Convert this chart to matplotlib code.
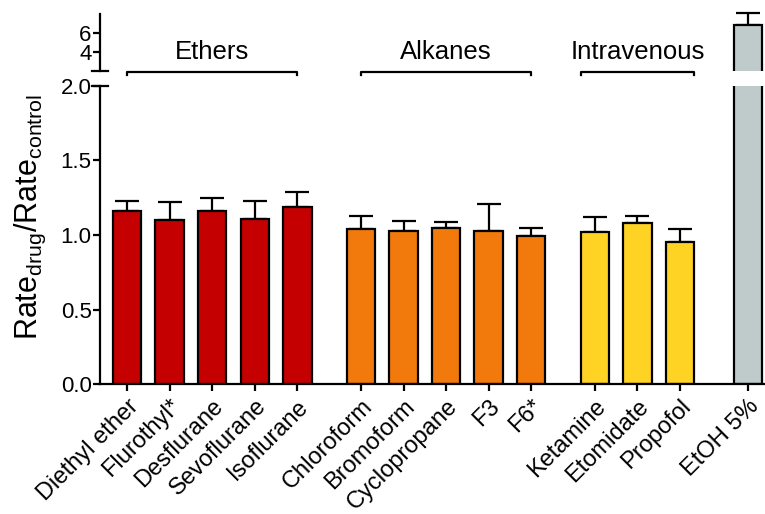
import matplotlib
matplotlib.use("Agg")
import matplotlib.pyplot as plt
import numpy as np

plt.rcParams["font.family"] = ["Liberation Sans", "DejaVu Sans"]
plt.rcParams["mathtext.default"] = "regular"

drugs = ["Diethyl ether", "Flurothyl*", "Desflurane", "Sevoflurane", "Isoflurane",
         "Chloroform", "Bromoform", "Cyclopropane", "F3", "F6*",
         "Ketamine", "Etomidate", "Propofol", "EtOH 5%"]
ratio = [1.16, 1.10, 1.16, 1.11, 1.19,
         1.04, 1.03, 1.05, 1.03, 0.99,
         1.02, 1.08, 0.95, 6.85]
err = [0.07, 0.12, 0.085, 0.12, 0.10,
       0.09, 0.065, 0.04, 0.18, 0.06,
       0.10, 0.045, 0.09, 1.25]
groups = ["Ethers"] * 5 + ["Alkanes"] * 5 + ["Intravenous"] * 3 + ["EtOH"]
group_names = ["Ethers", "Alkanes", "Intravenous"]

# bar positions with gaps between groups
xpos = [0, 1, 2, 3, 4, 5.5, 6.5, 7.5, 8.5, 9.5, 11, 12, 13, 14.6]
colors = {"Ethers": "#c40000", "Alkanes": "#f27a0c", "Intravenous": "#ffd324",
          "EtOH": "#bfcbcb"}
bar_colors = [colors[g] for g in groups]
brackets = {"Ethers": (0, 4), "Alkanes": (5.5, 9.5), "Intravenous": (10.67, 13.33)}

x = np.array(xpos)
y = np.array(ratio)
e = np.array(err)

fig = plt.figure(figsize=(7.65, 5.14), dpi=100)
ax = fig.add_axes([0.1307, 0.2529, 0.8693, 0.5798])
ax_top = fig.add_axes([0.1307, 0.8619, 0.8693, 0.1109])

lw = 1.6
for a in (ax, ax_top):
    a.bar(x, y, width=0.67, color=bar_colors, edgecolor="black", linewidth=lw, zorder=2)
    a.set_xlim(-0.64, 15.0)
    for s in ["top", "right"]:
        a.spines[s].set_visible(False)
    a.spines["left"].set_linewidth(lw)
    a.tick_params(axis="y", width=lw, length=5, labelsize=16, pad=1)

ax.errorbar(x, y, yerr=[np.zeros(len(e)), e], fmt="none", ecolor="black",
            elinewidth=lw, capsize=8.5, capthick=lw, zorder=1)
big = y > 2
ax_top.errorbar(x[big], y[big], yerr=[np.zeros(big.sum()), e[big]], fmt="none",
                ecolor="black", elinewidth=lw, capsize=8.5, capthick=lw, zorder=1,
                clip_on=False)

ax.set_ylim(0, 2.0)
ax.set_yticks(np.arange(0, 2.01, 0.5))
ax.set_yticklabels([f"{v:.1f}" for v in np.arange(0, 2.01, 0.5)])
ax.spines["bottom"].set_linewidth(lw)
ax.set_xticks(x)
ax.set_xticklabels(drugs, rotation=45, ha="right", rotation_mode="anchor", fontsize=17)
ax.tick_params(axis="x", width=lw, length=5, pad=3)
ax.set_ylabel("Rate$_{drug}$/Rate$_{control}$", fontsize=22)
ax.yaxis.set_label_coords(-0.078, 0.56)

ax_top.set_ylim(2, 8)
ax_top.set_yticks([4, 6])
ax_top.spines["bottom"].set_visible(False)
ax_top.set_xticks([])

# caps at the axis break
for a, yy in ((ax, 1.0), (ax_top, 0.0)):
    a.plot([-0.012, 0.012], [yy, yy], transform=a.transAxes, color="black",
           linewidth=lw, clip_on=False)

# group brackets and labels
for name in group_names:
    x0, x1 = brackets[name]
    ax_top.plot([x0, x0, x1, x1], [1.6, 1.85, 1.85, 1.6], color="black",
                linewidth=lw, clip_on=False)
    ax_top.text((x0 + x1) / 2, 4.0, name, ha="center", va="center", fontsize=18.5)

fig.savefig("out.png", dpi=100)
